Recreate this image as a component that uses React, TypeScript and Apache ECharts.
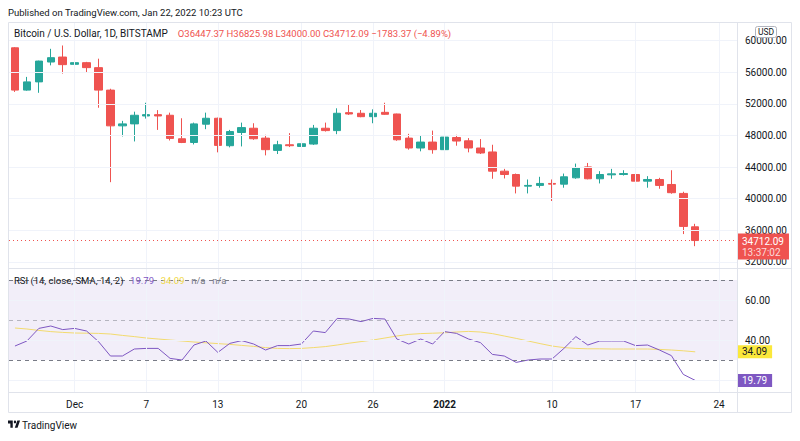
import React, { useEffect, useRef } from "react";
import * as echarts from "echarts";

const dates = [
  "11-26", "11-27", "11-28", "11-29", "11-30",
  "12-01", "12-02", "12-03", "12-04", "12-05", "12-06", "12-07", "12-08", "12-09", "12-10",
  "12-11", "12-12", "12-13", "12-14", "12-15", "12-16", "12-17", "12-18", "12-19", "12-20",
  "12-21", "12-22", "12-23", "12-24", "12-25", "12-26", "12-27", "12-28", "12-29", "12-30", "12-31",
  "01-01", "01-02", "01-03", "01-04", "01-05", "01-06", "01-07", "01-08", "01-09", "01-10",
  "01-11", "01-12", "01-13", "01-14", "01-15", "01-16", "01-17", "01-18", "01-19", "01-20",
  "01-21", "01-22", "01-23", "01-24", "01-25",
];

const opens = [
  59080, 53730, 54770, 57280, 57910,
  56990, 57200, 56570, 53730, 49210, 49460, 50460, 50630, 50550, 47580,
  47110, 49420, 50170, 46700, 48370, 48910, 47660, 46110, 46820, 46610,
  46910, 48910, 48610, 50880, 50800, 50370, 50920, 50710, 47660, 46410, 47160,
  46200, 47740, 47320, 46410, 45910, 43480, 43060, 41590, 41680, 41930,
  41840, 42640, 44020, 42520, 43020, 43060, 43060, 42220, 42430, 41800,
  40670, 36447.37,
];
const closes = [
  53730, 54770, 57400, 57830, 56950,
  57200, 56570, 53730, 49210, 49460, 50550, 50630, 50460, 47620, 47110,
  49460, 50170, 46740, 48490, 48990, 47580, 46200, 46820, 46700, 46950,
  48910, 48610, 50800, 50710, 50370, 50800, 50670, 47450, 46410, 47160, 46200,
  47790, 47290, 46410, 45780, 43480, 43060, 41590, 41680, 41930, 41840,
  42770, 43890, 42520, 43060, 43140, 43180, 42220, 42430, 41680, 40760,
  36495.46, 34712.09,
];
const lows = [
  53500, 53650, 53390, 56860, 55820,
  56650, 55900, 51500, 42090, 47870, 47240, 50130, 48700, 47360, 47030,
  46860, 48790, 45860, 46490, 46610, 47450, 45480, 45650, 46530, 45650,
  46800, 48490, 48160, 50590, 50300, 49540, 50600, 47320, 46200, 45990, 45690,
  46150, 46700, 45860, 45650, 42520, 42560, 40670, 40670, 41390, 39710,
  41390, 42520, 42450, 41930, 42520, 42930, 41680, 41390, 41260, 40630,
  35530, 34000.0,
];
const highs = [
  59160, 55400, 57450, 58950, 59370,
  59080, 57300, 57700, 53900, 49840, 51000, 52130, 51200, 50880, 50170,
  49620, 50880, 50250, 48700, 49620, 49540, 48080, 47320, 48290, 47540,
  49330, 49620, 51430, 51970, 51210, 51300, 52130, 50750, 48200, 47950, 48610,
  47950, 48080, 47660, 47540, 46820, 43770, 43180, 42430, 42770, 42430,
  43180, 44440, 44520, 43480, 43770, 43600, 43270, 42850, 42640, 43600,
  40880, 36825.98,
];

const rsi = [
  37, 39.5, 45.8, 47, 45.2,
  45.8, 44.5, 39.2, 32, 32, 35.5, 35.8, 35.8, 30.8, 30,
  37.5, 39.5, 33.8, 38.3, 39.7, 38, 35, 37.2, 37.2, 38,
  44.5, 43.7, 50.8, 50.5, 49.2, 50.8, 50.5, 40.5, 38, 40.5, 38,
  44.2, 43.3, 40.5, 38.7, 32.8, 32, 28.8, 30, 30.5, 30.5,
  35.8, 41.7, 37.5, 39.5, 39.5, 39.5, 37.2, 37.5, 35, 32.2,
  22.8, 19.79,
];
const rsiSma = [
  46.0, 45.5, 44.8, 44.2, 43.8,
  43.5, 43.4, 43.3, 43.0, 42.3, 41.7, 41.0, 40.5, 40.0, 39.5,
  39.0, 38.6, 38.2, 37.8, 37.3, 36.8, 36.2, 35.8, 35.7, 35.8,
  36.2, 36.7, 37.5, 38.4, 39.2, 40.0, 41.0, 42.0, 42.8, 43.2, 43.4,
  43.6, 44.0, 44.3, 44.0, 43.2, 42.0, 40.8, 39.5, 38.2, 37.0,
  36.2, 35.8, 35.6, 35.6, 35.5, 35.5, 35.5, 35.5, 35.3, 35.0,
  34.6, 34.09,
];

const priceTicks = [32000, 36000, 40000, 44000, 48000, 52000, 56000, 60000];
const rsiTicks = [40, 60];
const rsiGridValues = [20, 40, 60];
const rsiBandLevels = [70, 50, 30];
const dateLabels: Record<string, string> = {
  "12-01": "Dec", "12-07": "7", "12-13": "13", "12-20": "20", "12-26": "26",
  "01-01": "2022", "01-10": "10", "01-17": "17", "01-24": "24",
};

const UP = "#26A69A";
const DOWN = "#EF5350";
const PURPLE = "#7E57C2";
const YELLOW_LINE = "#F2DA6E";
const YELLOW_BOX = "#FBE83B";
const GRID = "#F0F3FA";
const BORDER = "#E0E3EB";
const TEXT = "#131722";
const FONT = "Roboto, 'Noto Sans', sans-serif";
const CLEAR = "rgba(0,0,0,0)";

echarts.graphic.registerShape(
  "tvlogo",
  echarts.graphic.extendPath(
    "M14 22H7V11H0V4h14v18z M24 7.5a3.5 3.5 0 1 1-7 0a3.5 3.5 0 1 1 7 0z M28 22h-8l7.5-18h8z",
    {}
  ) as any
);

export default function App() {
  const ref = useRef<HTMLDivElement>(null);

  useEffect(() => {
    const el = ref.current!;
    const chart = echarts.init(el, null, { renderer: "svg" });
    const last = closes.length - 1;
    const change = closes[last] - closes[last - 1];
    const pct = (change / closes[last - 1]) * 100;
    const signed = (v: number) => (v < 0 ? "\u2212" : "+") + Math.abs(v).toFixed(2);
    const ohlc = `O${opens[last].toFixed(2)} H${highs[last].toFixed(2)} L${lows[last].toFixed(2)} C${closes[last].toFixed(2)} ${signed(change)} (${signed(pct)}%)`;
    const candleData = opens.map((o, i) => [o, closes[i], lows[i], highs[i]]);
    const labelIdx = Object.keys(dateLabels).map((k) => dates.indexOf(k));
    const vLines = labelIdx.map((i) => ({ xAxis: i }));
    const lastColor = closes[last] < opens[last] ? DOWN : UP;

    const valueBox = (value: number, bg: string, fg: string) => ({
      yAxis: value,
      lineStyle: { color: CLEAR, width: 1 },
      label: {
        show: true, position: "end", distance: 0,
        backgroundColor: bg, color: fg, fontSize: 10, fontFamily: FONT,
        padding: [2, 5, 1, 5], formatter: () => value.toFixed(2),
      },
    });

    const option: any = {
      animation: false,
      backgroundColor: "#ffffff",
      textStyle: { fontFamily: FONT },
      grid: [
        { left: 9, top: 22, width: 728, height: 246 },
        { left: 9, top: 268, width: 728, height: 124 },
      ],
      xAxis: [
        {
          type: "category", gridIndex: 0, data: dates, boundaryGap: true,
          axisLine: { show: false }, axisTick: { show: false }, axisLabel: { show: false },
          splitLine: { show: false },
        },
        {
          type: "category", gridIndex: 1, data: dates, boundaryGap: true,
          axisLine: { show: false }, axisTick: { show: false }, splitLine: { show: false },
          axisLabel: {
            interval: (_i: number, v: string) => v in dateLabels,
            formatter: (v: string) => (v === "01-01" ? `{b|${dateLabels[v]}}` : dateLabels[v] || ""),
            color: TEXT, fontSize: 10, fontFamily: FONT, margin: 7,
            rich: { b: { fontWeight: "bold", fontSize: 10, color: TEXT, fontFamily: FONT } },
          },
        },
      ],
      yAxis: [
        {
          type: "value", gridIndex: 0, position: "right", min: 31240, max: 62340,
          axisLine: { show: false }, axisTick: { show: false }, splitLine: { show: false },
          axisLabel: {
            customValues: priceTicks, formatter: (v: number) => v.toFixed(2),
            color: TEXT, fontSize: 10, fontFamily: FONT, margin: 8,
          },
        },
        {
          type: "value", gridIndex: 1, position: "right", min: 14, max: 76,
          axisLine: { show: false }, axisTick: { show: false }, splitLine: { show: false },
          axisLabel: {
            customValues: rsiTicks, formatter: (v: number) => v.toFixed(2),
            color: TEXT, fontSize: 10, fontFamily: FONT, margin: 8,
          },
        },
      ],
      series: [
        {
          type: "line", xAxisIndex: 0, yAxisIndex: 0, data: [], z: 0, silent: true,
          markLine: {
            silent: true, symbol: "none", animation: false,
            label: { show: false },
            lineStyle: { color: GRID, width: 1, type: "solid" },
            data: [...priceTicks.map((v) => ({ yAxis: v })), ...vLines],
          },
        },
        {
          type: "candlestick", xAxisIndex: 0, yAxisIndex: 0, data: candleData, z: 3,
          barWidth: 8,
          itemStyle: { color: UP, color0: DOWN, borderColor: UP, borderColor0: DOWN, borderWidth: 1 },
          markLine: {
            silent: true, symbol: "none", animation: false,
            data: [
              {
                yAxis: closes[last],
                lineStyle: { color: lastColor, width: 1, type: [1, 3] },
                label: {
                  show: true, position: "end", distance: 0, offset: [0, 6],
                  backgroundColor: lastColor, padding: [2, 5, 2, 5],
                  formatter: () => `{a|${closes[last].toFixed(2)}}\n{b|13:37:02}`,
                  rich: {
                    a: { color: "#ffffff", fontSize: 10, fontFamily: FONT, lineHeight: 11 },
                    b: { color: "rgba(255,255,255,0.8)", fontSize: 10, fontFamily: FONT, lineHeight: 11 },
                  },
                },
              },
            ],
          },
        },
        {
          type: "line", xAxisIndex: 1, yAxisIndex: 1, data: [], z: 0, silent: true,
          markArea: {
            silent: true,
            itemStyle: { color: "rgba(126,87,194,0.1)" },
            data: [[{ yAxis: rsiBandLevels[0] }, { yAxis: rsiBandLevels[2] }]],
          },
          markLine: {
            silent: true, symbol: "none", animation: false,
            label: { show: false },
            lineStyle: { color: GRID, width: 1, type: "solid" },
            data: [
              ...rsiGridValues.map((v) => ({ yAxis: v })),
              ...vLines,
              { yAxis: rsiBandLevels[0], lineStyle: { color: "#787B86", type: [4, 4], width: 1 } },
              { yAxis: rsiBandLevels[1], lineStyle: { color: "rgba(120,123,134,0.5)", type: [4, 4], width: 1 } },
              { yAxis: rsiBandLevels[2], lineStyle: { color: "#787B86", type: [4, 4], width: 1 } },
            ],
          },
        },
        {
          type: "line", xAxisIndex: 1, yAxisIndex: 1, data: rsiSma, z: 3,
          showSymbol: false, symbol: "none",
          lineStyle: { color: YELLOW_LINE, width: 1 },
          markLine: {
            silent: true, symbol: "none", animation: false,
            data: [valueBox(rsiSma[last], YELLOW_BOX, TEXT)],
          },
        },
        {
          type: "line", xAxisIndex: 1, yAxisIndex: 1, data: rsi, z: 4,
          showSymbol: false, symbol: "none",
          lineStyle: { color: PURPLE, width: 1 },
          markLine: {
            silent: true, symbol: "none", animation: false,
            data: [valueBox(rsi[last], PURPLE, "#ffffff")],
          },
        },
      ],
      graphic: [
        {
          type: "text", x: 8, y: 12, z: 60,
          style: {
            text: "Published on TradingView.com, Jan 22, 2022 10:23 UTC",
            font: `9.5px ${FONT}`, fill: TEXT, verticalAlign: "middle",
          },
        },
        {
          type: "rect", z: 60, silent: true,
          shape: { x: 8.5, y: 22.5, width: 783, height: 390 },
          style: { fill: "none", stroke: BORDER, lineWidth: 1 },
        },
        { type: "line", z: 60, silent: true, shape: { x1: 737.5, y1: 22, x2: 737.5, y2: 413 }, style: { stroke: BORDER, lineWidth: 1 } },
        { type: "line", z: 60, silent: true, shape: { x1: 8, y1: 268.5, x2: 792, y2: 268.5 }, style: { stroke: BORDER, lineWidth: 1 } },
        { type: "line", z: 60, silent: true, shape: { x1: 8, y1: 392.5, x2: 792, y2: 392.5 }, style: { stroke: BORDER, lineWidth: 1 } },
        {
          type: "text", x: 14, y: 33, z: 60,
          style: {
            text: `{n|Bitcoin / U.S. Dollar, 1D, BITSTAMP}   {r|${ohlc}}`,
            verticalAlign: "middle",
            rich: {
              n: { fill: TEXT, fontSize: 10, fontFamily: FONT },
              r: { fill: DOWN, fontSize: 9.5, fontFamily: FONT },
            },
          },
        },
        {
          type: "text", x: 14, y: 280, z: 60,
          style: {
            text: `{n|RSI (14, close, SMA, 14, 2)}  {p|${rsi[last].toFixed(2)}}  {y|${rsiSma[last].toFixed(2)}}  {g|n/a}  {g|n/a}`,
            verticalAlign: "middle",
            rich: {
              n: { fill: TEXT, fontSize: 9.5, fontFamily: FONT },
              p: { fill: PURPLE, fontSize: 9.5, fontFamily: FONT },
              y: { fill: "#F0D84A", fontSize: 9.5, fontFamily: FONT },
              g: { fill: "#787B86", fontSize: 9.5, fontFamily: FONT },
            },
          },
        },
        {
          type: "rect", z: 70,
          shape: { x: 755.5, y: 26.5, width: 21, height: 11, r: 2 },
          style: { fill: "#ffffff", stroke: "#B2B5BE", lineWidth: 1 },
        },
        {
          type: "text", x: 766, y: 32, z: 71,
          style: { text: "USD", font: `8.5px ${FONT}`, fill: TEXT, align: "center", verticalAlign: "middle" },
        },
        {
          type: "tvlogo", x: 8, y: 419, scaleX: 0.34, scaleY: 0.4, z: 60,
          style: { fill: TEXT },
        },
        {
          type: "text", x: 22, y: 425, z: 60,
          style: { text: "TradingView", font: `10px ${FONT}`, fill: TEXT, verticalAlign: "middle" },
        },
      ],
    };

    chart.setOption(option);
    return () => chart.dispose();
  }, []);

  return (
    <div
      ref={ref}
      style={{ position: "fixed", left: 0, top: 0, width: 800, height: 441, background: "#ffffff" }}
    />
  );
}
